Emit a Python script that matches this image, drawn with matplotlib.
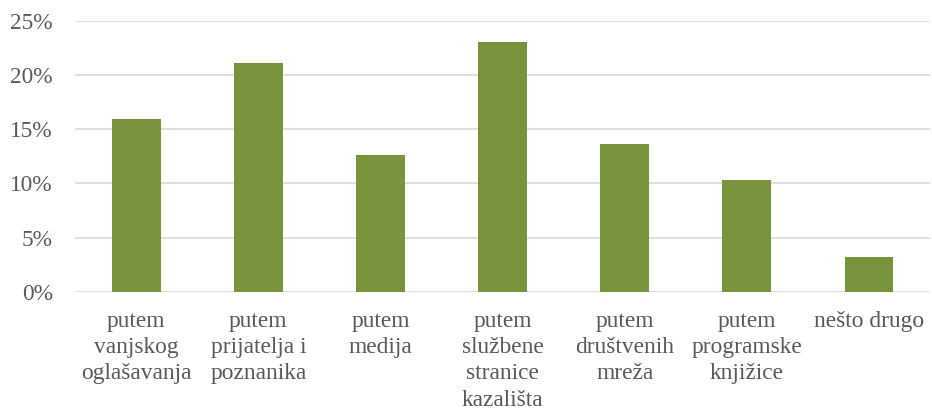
import matplotlib.pyplot as plt
from matplotlib.ticker import FuncFormatter

categories = [
    "putem\nvanjskog\noglašavanja",
    "putem\nprijatelja i\npoznanika",
    "putem\nmedija",
    "putem\nslužbene\nstranice\nkazališta",
    "putem\ndruštvenih\nmreža",
    "putem\nprogramske\nknjižice",
    "nešto drugo",
]
shares = [15.9, 21.1, 12.6, 23.0, 13.6, 10.3, 3.2]
y_ticks = [0, 5, 10, 15, 20, 25]

plt.rcParams['font.family'] = ['Liberation Serif', 'DejaVu Serif']
text_color = '#595959'
grid_color = '#D9D9D9'

fig = plt.figure(figsize=(9.32, 4.11), dpi=100)
ax = fig.add_axes([0.0805, 0.2895, 0.9175, 0.6601])

x = range(len(categories))
ax.bar(x, shares, width=0.4, color='#77933C', zorder=3)

ax.set_xlim(-0.5, len(categories) - 0.5)
ax.set_ylim(0, 25)
ax.set_yticks(y_ticks)
ax.yaxis.set_major_formatter(FuncFormatter(lambda v, _: f"{v:.0f}%"))
ax.set_xticks(list(x))
ax.set_xticklabels(categories, linespacing=1.33)

ax.grid(axis='y', color=grid_color, linewidth=1.2, zorder=0)
ax.set_axisbelow(True)
for s in ax.spines.values():
    s.set_visible(False)

ax.tick_params(axis='both', length=0, labelsize=16.8, labelcolor=text_color)
ax.tick_params(axis='y', pad=16)
ax.tick_params(axis='x', pad=13.5)

fig.savefig('out.png', dpi=100)
